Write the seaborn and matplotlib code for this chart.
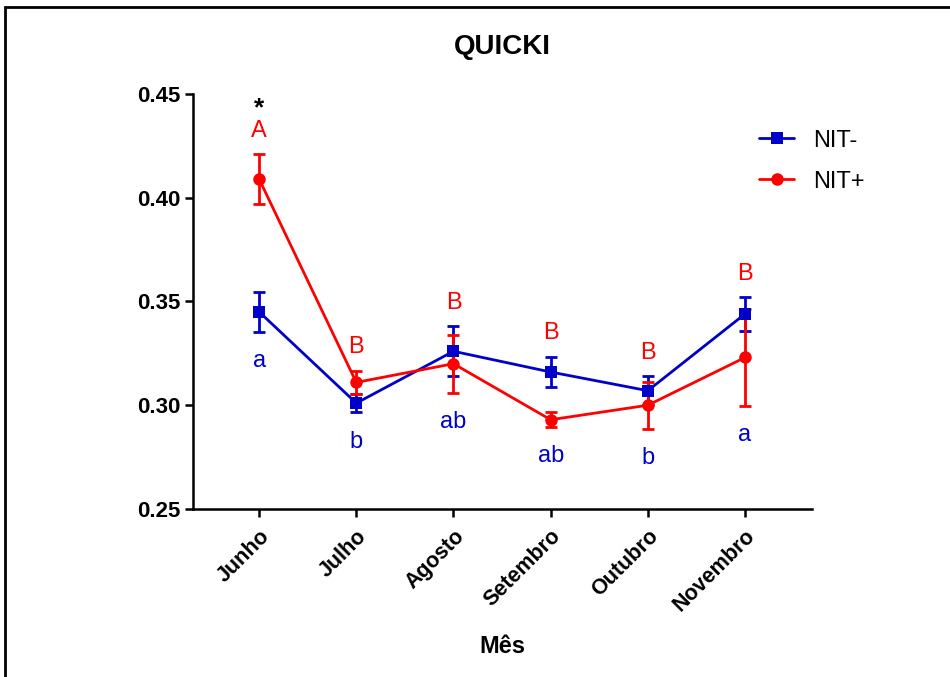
"""
QUICKI by month, NIT- vs NIT+ (mean +/- SEM) with significance letters.
"""
import numpy as np
import pandas as pd
import matplotlib
matplotlib.use('Agg')
import matplotlib.pyplot as plt
from matplotlib.patches import Rectangle
from matplotlib.lines import Line2D
import seaborn as sns

# data
months = ['Junho', 'Julho', 'Agosto', 'Setembro', 'Outubro', 'Novembro']
nit_neg_mean = [0.345, 0.301, 0.326, 0.316, 0.307, 0.344]
nit_neg_err = [0.0098, 0.0045, 0.012, 0.0072, 0.0070, 0.0080]
nit_pos_mean = [0.409, 0.311, 0.320, 0.293, 0.300, 0.323]
nit_pos_err = [0.012, 0.0055, 0.014, 0.0035, 0.0113, 0.0232]
letters_pos = ['A', 'B', 'B', 'B', 'B', 'B']
letters_neg = ['a', 'b', 'ab', 'ab', 'b', 'a']
star_months = ['Junho']

BLUE = '#0000C8'
RED = '#FF0000'

sns.set_style('ticks')
plt.rcParams['font.family'] = ['Liberation Sans', 'DejaVu Sans']
for k in ['text.color', 'axes.labelcolor', 'xtick.color', 'ytick.color', 'axes.edgecolor']:
    plt.rcParams[k] = 'black'

df = pd.DataFrame({
    'Mês': months * 2,
    'x': list(range(len(months))) * 2,
    'QUICKI': nit_neg_mean + nit_pos_mean,
    'err': nit_neg_err + nit_pos_err,
    'grupo': ['NIT-'] * len(months) + ['NIT+'] * len(months),
})

fig = plt.figure(figsize=(9.5, 6.77), dpi=100)
ax = fig.add_axes([0.2032, 0.2482, 0.6516, 0.613])

sns.lineplot(data=df, x='x', y='QUICKI', hue='grupo', style='grupo',
             palette={'NIT-': BLUE, 'NIT+': RED},
             markers={'NIT-': 's', 'NIT+': 'o'}, dashes=False,
             markersize=9, markeredgewidth=0, linewidth=2,
             legend=False, ax=ax, zorder=3)

for grp, color in [('NIT-', BLUE), ('NIT+', RED)]:
    sub = df[df['grupo'] == grp]
    ax.errorbar(sub['x'], sub['QUICKI'], yerr=sub['err'], fmt='none',
                ecolor=color, elinewidth=2, capsize=4.5, capthick=2, zorder=2)

# significance letters
top = np.maximum(np.array(nit_neg_mean) + nit_neg_err, np.array(nit_pos_mean) + nit_pos_err)
bot = np.minimum(np.array(nit_neg_mean) - nit_neg_err, np.array(nit_pos_mean) - nit_pos_err)
for i, m in enumerate(months):
    ax.annotate(letters_pos[i], (i, top[i]), xytext=(0, 17), textcoords='offset points',
                ha='center', va='center', color=RED, fontsize=17)
    ax.annotate(letters_neg[i], (i, bot[i]), xytext=(0, -21), textcoords='offset points',
                ha='center', va='center', color=BLUE, fontsize=17)
    if m in star_months:
        ax.annotate('*', (i, top[i]), xytext=(0, 33), textcoords='offset points',
                    ha='center', va='center', color='black', fontsize=19, fontweight='bold')

ax.set_xlim(-0.68, 5.69)
ax.set_ylim(0.25, 0.45)
ax.set_yticks([0.25, 0.30, 0.35, 0.40, 0.45])
ax.set_yticklabels([f'{v:.2f}' for v in [0.25, 0.30, 0.35, 0.40, 0.45]],
                   fontsize=16, fontweight='bold')
ax.set_xticks(range(len(months)))
ax.set_xticklabels(months, rotation=45, ha='right', rotation_mode='anchor',
                   fontsize=15.5, fontweight='bold')
ax.tick_params(axis='both', length=6, width=1.8, color='black', pad=3)
ax.tick_params(axis='x', pad=6)
for s in ['left', 'bottom']:
    ax.spines[s].set_linewidth(1.8)
    ax.spines[s].set_color('black')
sns.despine(ax=ax)

ax.set_xlabel('Mês', fontsize=17, fontweight='bold', labelpad=14)
ax.set_ylabel('')
ax.set_title('QUICKI', fontsize=20, fontweight='bold', pad=29)

handles = [Line2D([], [], color=BLUE, marker='s', markersize=9, linewidth=2, markeredgewidth=0),
           Line2D([], [], color=RED, marker='o', markersize=9, linewidth=2, markeredgewidth=0)]
ax.legend(handles, ['NIT-', 'NIT+'], loc='upper left', bbox_to_anchor=(0.88, 0.965),
          frameon=False, fontsize=17, handlelength=1.5, labelspacing=0.8, handletextpad=0.8)

# outer frame (cropped at right and bottom in the reference)
fig.add_artist(Rectangle((5 / 950, -0.1), 1.2, 1 - 7 / 677 + 0.1,
                         transform=fig.transFigure, fill=False,
                         edgecolor='black', linewidth=2, clip_on=False))

fig.savefig('out.png', dpi=100)
